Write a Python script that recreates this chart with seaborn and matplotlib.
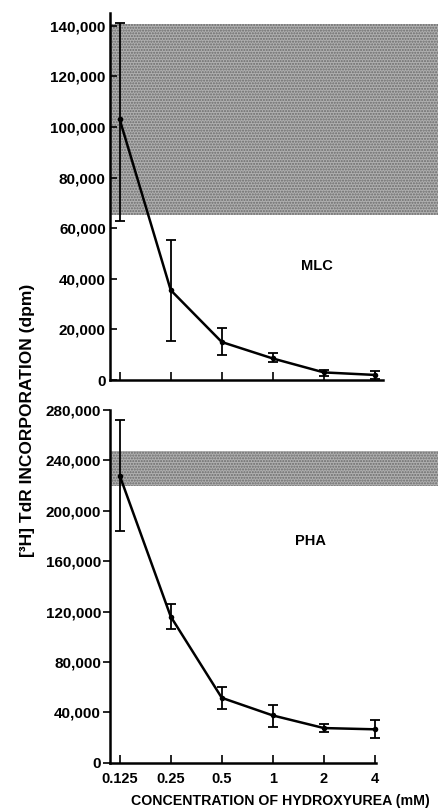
import matplotlib
matplotlib.use("Agg")
import matplotlib.pyplot as plt
import seaborn as sns
import pandas as pd
import numpy as np
from matplotlib.ticker import FixedLocator, FuncFormatter, NullLocator

# ---- data ----
conc = [0.125, 0.25, 0.5, 1, 2, 4]
conc_labels = ["0.125", "0.25", "0.5", "1", "2", "4"]

mlc_mean = [103000, 35500, 15000, 8500, 3000, 2000]
mlc_low = [63000, 15500, 10000, 7000, 1500, 500]
mlc_high = [141000, 55500, 20500, 10500, 4000, 3500]
mlc_band = [65000, 140500]
mlc_yticks = [0, 20000, 40000, 60000, 80000, 100000, 120000, 140000]

pha_mean = [228000, 116000, 51500, 37500, 27500, 26500]
pha_low = [184000, 106500, 42500, 28500, 24000, 20000]
pha_high = [272000, 126000, 60000, 46000, 31000, 34000]
pha_band = [219500, 247500]
pha_yticks = [0, 40000, 80000, 120000, 160000, 200000, 240000, 280000]

sns.set_style("ticks")
fam = ["Liberation Sans", "DejaVu Sans"]
plt.rcParams["font.family"] = fam
plt.rcParams["font.weight"] = "bold"
plt.rcParams["hatch.linewidth"] = 1.0
for k in ["text.color", "axes.labelcolor", "xtick.color", "ytick.color",
          "axes.edgecolor"]:
    plt.rcParams[k] = "black"

fig = plt.figure(figsize=(4.38, 8.10), dpi=100)
ax1 = fig.add_axes([110/438, 1-380/810, 1-110/438, (380-13)/810])
ax2 = fig.add_axes([110/438, 1-762.7/810, 1-110/438, (762.7-410)/810])

XL = (0.1096, 9.42)

def draw(ax, mean, low, high, band, yticks, ylim, label, lpos, xend, ydir):
    df = pd.DataFrame({"conc": conc, "val": mean})
    ax.axhspan(band[0], band[1], facecolor="#b0b0b0", edgecolor="#6a6a6a",
               hatch="......", lw=0, zorder=0)
    sns.lineplot(data=df, x="conc", y="val", ax=ax, color="black", lw=1.8,
                 marker="o", markersize=4, markeredgewidth=0, zorder=3)
    yerr = [np.array(mean) - np.array(low), np.array(high) - np.array(mean)]
    ax.errorbar(conc, mean, yerr=yerr, fmt="none", ecolor="black",
                elinewidth=1.3, capsize=3.5, capthick=1.3, zorder=3)
    ax.set_xscale("log", base=2)
    ax.set_xlim(*XL)
    ax.set_ylim(*ylim)
    ax.xaxis.set_major_locator(FixedLocator(conc))
    ax.xaxis.set_minor_locator(NullLocator())
    ax.set_yticks(yticks)
    ax.yaxis.set_major_formatter(FuncFormatter(lambda v, p: f"{int(v):,}"))
    ax.tick_params(axis="x", direction="in", length=6, width=1.2,
                   labelsize=10.5, pad=7)
    ax.tick_params(axis="y", direction=ydir, length=5, width=1.2,
                   labelsize=11, pad=3 if ydir == "in" else 1.5)
    for s in ["top", "right"]:
        ax.spines[s].set_visible(False)
    ax.spines["left"].set_linewidth(1.8)
    ax.spines["bottom"].set_linewidth(1.8)
    ax.spines["bottom"].set_bounds(XL[0], xend)
    ax.set_xlabel("")
    ax.set_ylabel("")
    ax.text(lpos[0], lpos[1], label, ha="center", va="center",
            fontsize=10.5, fontweight="bold")
    for t in ax.get_yticklabels():
        t.set_fontweight("bold")

draw(ax1, mlc_mean, mlc_low, mlc_high, mlc_band, mlc_yticks, (0, 145000),
     "MLC", (1.82, 45000), 4.45, "in")
ax1.set_xticklabels([])
draw(ax2, pha_mean, pha_low, pha_high, pha_band, pha_yticks, (0, 280000),
     "PHA", (1.66, 176000), 4.05, "out")
ax2.set_xticklabels(conc_labels, fontweight="bold")

fig.text(280/438, 1-801/810, "CONCENTRATION OF HYDROXYUREA (mM)",
         ha="center", va="center", fontsize=10.2, fontweight="bold")
fig.text(28/438, 1-420/810, "[³H] TdR INCORPORATION (dpm)", rotation=90,
         ha="center", va="center", fontsize=12.5, fontweight="bold")

fig.savefig("out.png", dpi=100)
